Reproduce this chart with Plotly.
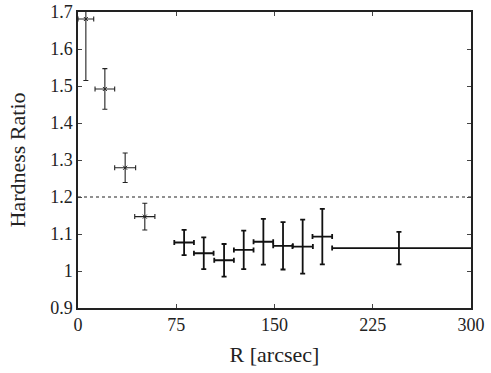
import plotly.graph_objects as go

# Data
r = [6, 20.5, 36, 51, 81, 96, 111.5, 126.5, 141.5, 156.5, 171.5, 186.5, 245]
r_err = [6, 7.5, 8, 7.7, 7.5, 7.5, 7.5, 7.5, 7.5, 7.5, 7.8, 7.5, 51]
r_err_plus = [6, 7.5, 8, 7.7, 7.5, 7.5, 7.5, 7.5, 7.5, 7.5, 7.8, 7.5, 60]
hr = [1.681, 1.492, 1.279, 1.147, 1.077, 1.048, 1.029, 1.057, 1.079, 1.068, 1.066, 1.093, 1.062]
hr_err = [0.166, 0.055, 0.04, 0.036, 0.034, 0.043, 0.044, 0.052, 0.062, 0.064, 0.073, 0.075, 0.044]
ref_level = 1.2
x_ticks = [0, 75, 150, 225, 300]
y_ticks = [0.9, 1.0, 1.1, 1.2, 1.3, 1.4, 1.5, 1.6, 1.7]
y_labels = ["0.9", "1", "1.1", "1.2", "1.3", "1.4", "1.5", "1.6", "1.7"]

n_thin = 4

fig = go.Figure()

# reference level (dotted)
fig.add_trace(go.Scatter(x=[x_ticks[0], x_ticks[-1]], y=[ref_level, ref_level], mode="lines",
                         line=dict(color="#222", width=1.2, dash="dot"), showlegend=False))

fig.add_trace(go.Scatter(
    x=r[:n_thin], y=hr[:n_thin], mode="markers",
    marker=dict(symbol="x-thin", size=4, color="#222", line=dict(width=1, color="#222")),
    error_x=dict(type="data", array=r_err_plus[:n_thin], arrayminus=r_err[:n_thin],
                 color="#222", thickness=1.1, width=2.5),
    error_y=dict(type="data", array=hr_err[:n_thin], color="#222", thickness=1.1, width=2.5),
    showlegend=False))

fig.add_trace(go.Scatter(
    x=r[n_thin:], y=hr[n_thin:], mode="markers",
    marker=dict(size=1, color="#111"),
    error_x=dict(type="data", array=r_err_plus[n_thin:], arrayminus=r_err[n_thin:],
                 color="#111", thickness=1.8, width=2.5),
    error_y=dict(type="data", array=hr_err[n_thin:], color="#111", thickness=1.8, width=2.5),
    showlegend=False))

font = dict(family="Liberation Serif", size=18, color="#222")

fig.update_layout(
    width=491, height=373,
    margin=dict(l=78, r=20, t=12, b=65),
    paper_bgcolor="white", plot_bgcolor="white",
    font=font,
    xaxis=dict(range=[0, 300], tickvals=x_ticks, ticks="inside", ticklen=4,
               showline=True, linecolor="#222", linewidth=1.5, mirror="ticks",
               showgrid=False, zeroline=False, automargin=False,
               ticklabeloverflow="allow",
               title=dict(text="R [arcsec]", standoff=12)),
    yaxis=dict(range=[0.9, 1.7], tickvals=y_ticks, ticktext=y_labels, ticks="inside", ticklen=4,
               showline=True, linecolor="#222", linewidth=1.5, mirror="ticks",
               showgrid=False, zeroline=False, automargin=False,
               ticklabeloverflow="allow",
               title=dict(text="Hardness Ratio", standoff=18)),
)

fig.write_html("out.html", config={"displayModeBar": False},
               post_script="document.body.style.margin='0';")
